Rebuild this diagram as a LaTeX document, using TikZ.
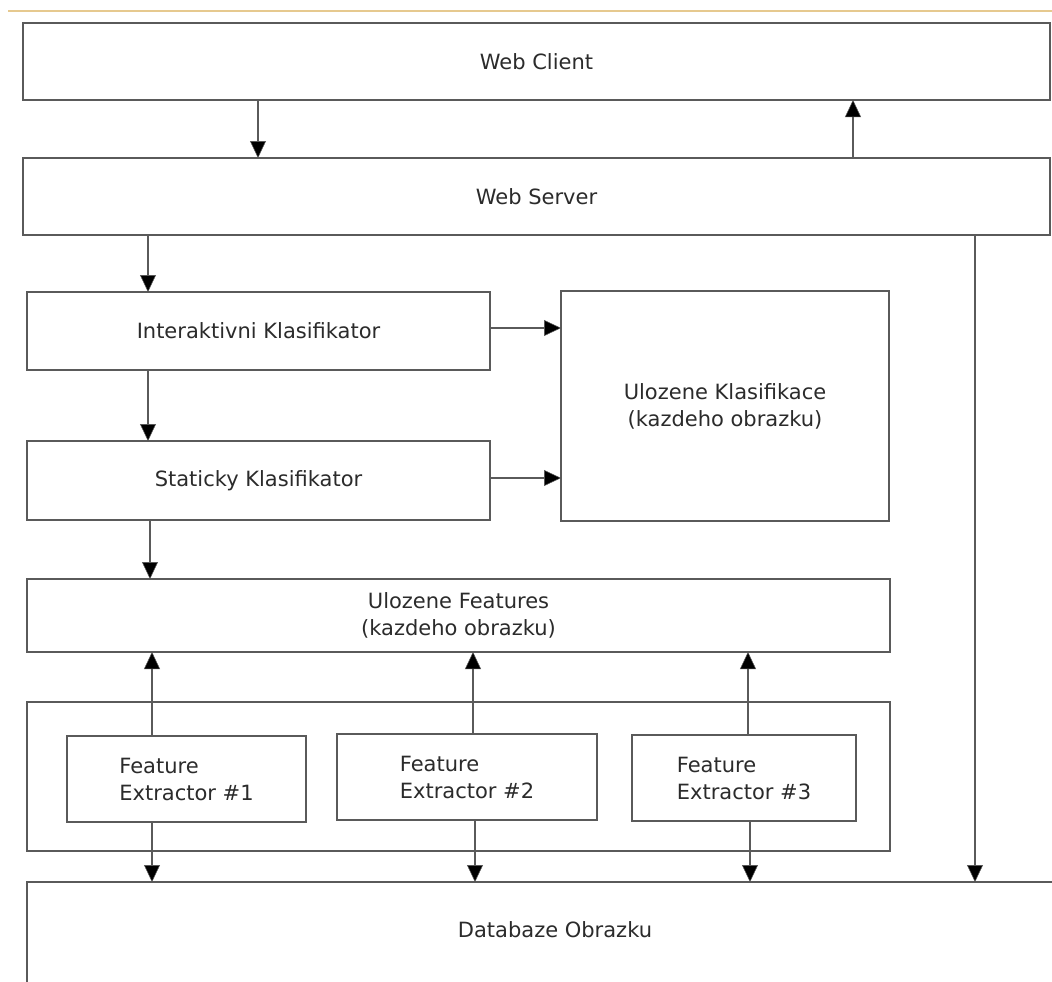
\documentclass[tikz,border=0pt]{standalone}
\usepackage{fontspec}
\setmainfont{DejaVu Sans}
\usetikzlibrary{arrows.meta}
\definecolor{edge}{HTML}{5A5A5A}
\definecolor{txt}{HTML}{2B2B2B}
\definecolor{gold}{HTML}{E6C98F}
\begin{document}
\begin{tikzpicture}[x=1pt,y=-1pt,
  box/.style={draw=edge,line width=2.3pt,fill=white,rectangle,anchor=north west,outer sep=0pt,inner sep=0pt,
    text=txt,font=\fontsize{21}{27}\selectfont,align=center},
  arr/.style={draw=edge,line width=1.8pt,-{Triangle[length=17pt,width=16pt,fill=black,line width=0.5pt]}}]
\useasboundingbox (0,0) rectangle (1052,982);
\clip (0,0) rectangle (1052,982);
\fill[white] (0,0) rectangle (1052,982);
\draw[gold,line width=1.5pt] (8,11) -- (1052,11);
\node[box,minimum width=1027pt,minimum height=77pt] (wc) at (23,23) {Web Client};
\node[box,minimum width=1027pt,minimum height=77pt] (ws) at (23,158) {Web Server};
\node[box,minimum width=463pt,minimum height=78pt] (ik) at (27,292) {Interaktivni Klasifikator};
\node[box,minimum width=328pt,minimum height=230pt] (uk) at (561,291) {Ulozene Klasifikace\\(kazdeho obrazku)};
\node[box,minimum width=463pt,minimum height=79pt] (sk) at (27,441) {Staticky Klasifikator};
\node[box,minimum width=863pt,minimum height=73pt] (uf) at (27,579) {Ulozene Features\\(kazdeho obrazku)};
\node[box,minimum width=863pt,minimum height=149pt] (ct) at (27,702) {};
\node[box,align=left,minimum width=239pt,minimum height=86pt] (fe1) at (67,736) {Feature\\Extractor \#1};
\node[box,align=left,minimum width=260pt,minimum height=86pt] (fe2) at (337,734) {Feature\\Extractor \#2};
\node[box,align=left,minimum width=224pt,minimum height=86pt] (fe3) at (632,735) {Feature\\Extractor \#3};
\node[box,minimum width=1100pt,minimum height=200pt] (db) at (27,882) {};
\node[text=txt,font=\fontsize{21}{27}\selectfont] (dbt) at (555,930) {Databaze Obrazku};
% connectors
\draw[arr] (wc.south -| 258,0) -- (ws.north -| 258,0);
\draw[arr] (ws.north -| 853,0) -- (wc.south -| 853,0);
\draw[arr] (ws.south -| 148,0) -- (ik.north -| 148,0);
\draw[arr] (ws.south -| 975,0) -- (db.north -| 975,0);
\draw[arr] (ik.east |- 0,328) -- (uk.west |- 0,328);
\draw[arr] (sk.east |- 0,478) -- (uk.west |- 0,478);
\draw[arr] (ik.south -| 148,0) -- (sk.north -| 148,0);
\draw[arr] (sk.south -| 150,0) -- (uf.north -| 150,0);
\draw[arr] (fe1.north -| 152,0) -- (uf.south -| 152,0);
\draw[arr] (fe2.north -| 473,0) -- (uf.south -| 473,0);
\draw[arr] (fe3.north -| 748,0) -- (uf.south -| 748,0);
\draw[arr] (fe1.south -| 152,0) -- (db.north -| 152,0);
\draw[arr] (fe2.south -| 475,0) -- (db.north -| 475,0);
\draw[arr] (fe3.south -| 750,0) -- (db.north -| 750,0);
\end{tikzpicture}
\end{document}
